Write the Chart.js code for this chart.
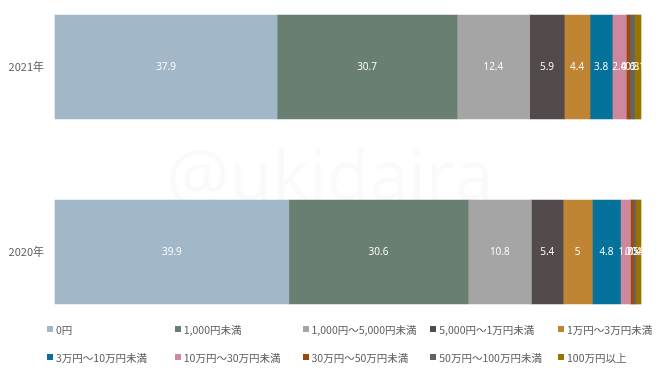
<!DOCTYPE html>
<html>
<head>
<meta charset="utf-8">
<script src="https://cdn.jsdelivr.net/npm/chart.js@4"></script>
<style>
  html, body { margin: 0; padding: 0; background: #fff; }
  #wrap { position: relative; width: 668px; height: 376px; }
  #legend {
    position: absolute; left: 47px; top: 315px;
    display: grid; grid-template-columns: repeat(5, 127.75px); grid-auto-rows: 28px;
    font: 10.5px "Noto Sans CJK JP", "Noto Sans", sans-serif; color: #595959;
  }
  #legend .item { display: flex; align-items: center; white-space: nowrap; }
  #legend .box { width: 6px; height: 6px; margin-right: 3px; }
</style>
</head>
<body>
<div id="wrap">
  <canvas id="myChart" width="668" height="376"></canvas>
  <div id="legend"></div>
</div>
<script>
const years = ['2021年', '2020年'];
const seriesNames = [
  '0円', '1,000円未満', '1,000円～5,000円未満', '5,000円～1万円未満', '1万円～3万円未満',
  '3万円～10万円未満', '10万円～30万円未満', '30万円～50万円未満', '50万円～100万円未満', '100万円以上'
];
const seriesColors = [
  '#A2B8C8', '#687F71', '#A5A5A5', '#524A4B', '#BF8533',
  '#04729A', '#CD889E', '#9E480E', '#636363', '#997300'
];
const values2021 = [37.9, 30.7, 12.4, 5.9, 4.4, 3.8, 2.4, 0.6, 0.8, 1.1];
const values2020 = [39.9, 30.6, 10.8, 5.4, 5, 4.8, 1.7, 0.5, 0.4, 0.9];

// white value text in the middle of each segment
const valueLabels = {
  id: 'valueLabels',
  afterDatasetsDraw(chart) {
    const ctx = chart.ctx;
    ctx.save();
    ctx.font = '10px "Open Sans"';
    ctx.fillStyle = '#ffffff';
    ctx.textAlign = 'center';
    ctx.textBaseline = 'middle';
    chart.data.datasets.forEach((ds, i) => {
      chart.getDatasetMeta(i).data.forEach((bar, j) => {
        const p = bar.getProps(['x', 'y', 'base'], true);
        ctx.fillText(String(ds.data[j]), (p.x + p.base) / 2, p.y);
      });
    });
    ctx.restore();
  }
};

// faint watermark behind the bars
const watermark = {
  id: 'watermark',
  beforeDatasetsDraw(chart) {
    const ctx = chart.ctx;
    ctx.save();
    ctx.font = '70px "Open Sans"';
    ctx.fillStyle = '#fafafa';
    ctx.textAlign = 'center';
    ctx.textBaseline = 'alphabetic';
    ctx.fillText('@ukidaira', 330, 200, 348);
    ctx.restore();
  }
};

const datasets = seriesNames.map((name, i) => ({
  label: name,
  data: [values2021[i], values2020[i]],
  backgroundColor: seriesColors[i],
  borderWidth: 0,
  barThickness: 104,
  clip: false,
}));

const chart1 = new Chart(document.getElementById('myChart'), {
  type: 'bar',
  data: { labels: years, datasets: datasets },
  options: {
    indexAxis: 'y',
    responsive: false,
    animation: false,
    layout: { padding: { top: 67, bottom: 124, left: 0, right: 27 } },
    plugins: {
      legend: { display: false },
      tooltip: { enabled: false },
    },
    scales: {
      x: { stacked: true, display: false, min: 0, max: 100 },
      y: {
        stacked: true,
        offset: false,
        grid: { display: false, drawTicks: false },
        border: { display: false },
        ticks: { color: '#595959', padding: 11, font: { size: 11, family: '"Noto Sans CJK JP"' } },
        afterFit(scale) { scale.width = 55; }
      }
    }
  },
  plugins: [watermark, valueLabels]
});

// legend as a fixed grid, like the original
const legendEl = document.getElementById('legend');
chart1.data.datasets.forEach((ds) => {
  const item = document.createElement('div');
  item.className = 'item';
  const box = document.createElement('span');
  box.className = 'box';
  box.style.background = ds.backgroundColor;
  item.appendChild(box);
  item.appendChild(document.createTextNode(ds.label));
  legendEl.appendChild(item);
});
</script>
</body>
</html>
